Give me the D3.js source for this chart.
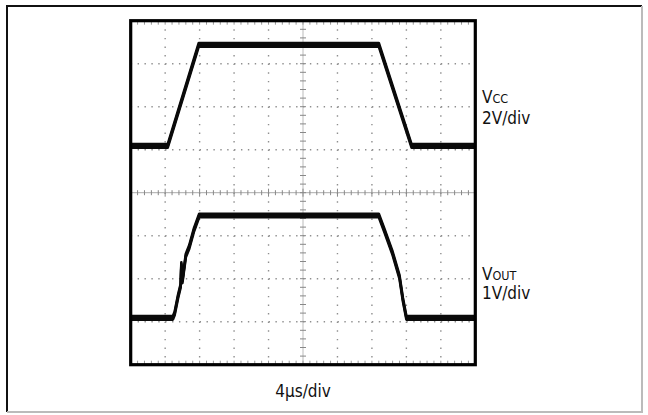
<!DOCTYPE html>
<html>
<head>
<meta charset="utf-8">
<script src="https://cdn.jsdelivr.net/npm/d3@7"></script>
<style>
  body { margin: 0; background: #fff; }
  text { font-family: "Liberation Sans Narrow", "DejaVu Sans Condensed", sans-serif; fill: #111; }
</style>
</head>
<body>
<svg id="chart" width="648" height="415"></svg>
<script>
// scope capture: time in microseconds, levels in volts
const vccTime  = [0, 4.3, 7.9, 28.8, 32.6, 40];
const vccVolts = [0, 0, 4.7, 4.7, 0, 0];

const voutTime  = [0, 4.9, 5.1, 5.5, 5.8, 5.88, 6.0, 6.1, 6.4, 6.8, 7.35, 7.95, 28.8, 29.45, 30.4, 31.2, 31.6, 32.0, 40];
const voutVolts = [0, 0, 0.1, 0.5, 0.75, 1.25, 0.85, 1.0, 1.45, 1.65, 2.05, 2.38, 2.38, 2.03, 1.5, 0.95, 0.42, 0, 0];

const timePerDiv = 4;          // us/div
const vccPerDiv = 2;           // V/div
const voutPerDiv = 1;          // V/div
const vccGround = 1.09;        // divisions above screen centre
const voutGround = -2.91;

const svg = d3.select("#chart");

// outer frame
svg.append("path").attr("d", "M7,412 L7,6 L642,6").attr("fill", "none").attr("stroke", "#111").attr("stroke-width", 2);
svg.append("path").attr("d", "M7,412 L642,412 L642,6").attr("fill", "none").attr("stroke", "#bbb").attr("stroke-width", 2);

let scrLeft = 130.7, scrRight = 475.3, scrTop = 20.7, scrBottom = 364.7;

let x = d3.scaleLinear().domain([0, 10 * timePerDiv]).range([scrLeft, scrRight]);
let yDiv = d3.scaleLinear().domain([-4, 4]).range([scrBottom, scrTop]);
let yVcc = d3.scaleLinear()
    .domain([(-4 - vccGround) * vccPerDiv, (4 - vccGround) * vccPerDiv])
    .range([scrBottom, scrTop]);
let yVout = d3.scaleLinear()
    .domain([(-4 - voutGround) * voutPerDiv, (4 - voutGround) * voutPerDiv])
    .range([scrBottom, scrTop]);

let grid = svg.append("g");

// dotted graticule
d3.range(1, 10).filter(d => d != 5).forEach(function(d){
    grid.append("line")
        .attr("x1", x(d * timePerDiv)).attr("x2", x(d * timePerDiv))
        .attr("y1", scrTop).attr("y2", scrBottom)
        .attr("stroke", "#8f8f8f").attr("stroke-width", 1.4)
        .attr("stroke-dasharray", "1.4," + (43 / 5 - 1.4));
});
d3.range(-3, 4).filter(d => d != 0).forEach(function(d){
    grid.append("line")
        .attr("x1", scrLeft).attr("x2", scrRight)
        .attr("y1", yDiv(d)).attr("y2", yDiv(d))
        .attr("stroke", "#8f8f8f").attr("stroke-width", 1.4)
        .attr("stroke-dasharray", "1.4," + (34.46 / 5 - 1.4));
});

// centre axes with minor ticks
grid.append("line").attr("x1", scrLeft).attr("x2", scrRight).attr("y1", yDiv(0)).attr("y2", yDiv(0))
    .attr("stroke", "#aaa").attr("stroke-width", 1);
grid.append("line").attr("x1", x(20)).attr("x2", x(20)).attr("y1", scrTop).attr("y2", scrBottom)
    .attr("stroke", "#bbb").attr("stroke-width", 1);

let hTicks = d3.range(0, 10 * timePerDiv + 0.01, timePerDiv / 5);
let vTicks = d3.range(-4, 4.01, 0.2);

grid.selectAll(".htick").data(hTicks).enter().append("line")
    .attr("x1", d => x(d)).attr("x2", d => x(d))
    .attr("y1", d => yDiv(0) - (Math.abs(d % timePerDiv) < 0.01 ? 4 : 2.5))
    .attr("y2", d => yDiv(0) + (Math.abs(d % timePerDiv) < 0.01 ? 4 : 2.5))
    .attr("stroke", "#888").attr("stroke-width", 1);
grid.selectAll(".vtick").data(vTicks).enter().append("line")
    .attr("y1", d => yDiv(d)).attr("y2", d => yDiv(d))
    .attr("x1", x(20) - 3).attr("x2", x(20) + 3)
    .attr("stroke", "#888").attr("stroke-width", 1);

// ticks along top and bottom edges
grid.selectAll(".ttick").data(hTicks).enter().append("line")
    .attr("x1", d => x(d)).attr("x2", d => x(d))
    .attr("y1", scrTop).attr("y2", scrTop + 4)
    .attr("stroke", "#999").attr("stroke-width", 1);
grid.selectAll(".btick").data(hTicks).enter().append("line")
    .attr("x1", d => x(d)).attr("x2", d => x(d))
    .attr("y1", scrBottom - 4).attr("y2", scrBottom)
    .attr("stroke", "#999").attr("stroke-width", 1);

// traces; drawn three times shifted to give the noisy band on flat parts
function drawTrace(times, volts, yScale){
    let pts = times.map((t, i) => [t, volts[i]]);
    let line = d3.line().x(d => x(d[0])).y(d => yScale(d[1]));
    [-1.8, 0, 1.8].forEach(function(off){
        svg.append("path")
            .attr("d", line(pts))
            .attr("transform", "translate(0," + off + ")")
            .attr("fill", "none")
            .attr("stroke", "#0a0a0a")
            .attr("stroke-width", 2.6)
            .attr("stroke-linejoin", "round");
    });
}

drawTrace(vccTime, vccVolts, yVcc);
drawTrace(voutTime, voutVolts, yVout);

// screen border
svg.append("rect")
    .attr("x", scrLeft).attr("y", scrTop).attr("width", scrRight - scrLeft).attr("height", scrBottom - scrTop)
    .attr("fill", "none").attr("stroke", "#000").attr("stroke-width", 3.2);

// labels
let t1 = svg.append("text").attr("x", 482).attr("y", 103).attr("font-size", 17);
t1.append("tspan").text("V");
t1.append("tspan").attr("font-size", 12.5).text("CC");
svg.append("text").attr("x", 482).attr("y", 124).attr("font-size", 17).text("2V/div");

let t2 = svg.append("text").attr("x", 482).attr("y", 280).attr("font-size", 17);
t2.append("tspan").text("V");
t2.append("tspan").attr("font-size", 12.5).text("OUT");
svg.append("text").attr("x", 482).attr("y", 299).attr("font-size", 17).text("1V/div");

svg.append("text").attr("x", x(20)).attr("y", 397).attr("font-size", 17)
    .attr("text-anchor", "middle").text("4µs/div");
</script>
</body>
</html>
